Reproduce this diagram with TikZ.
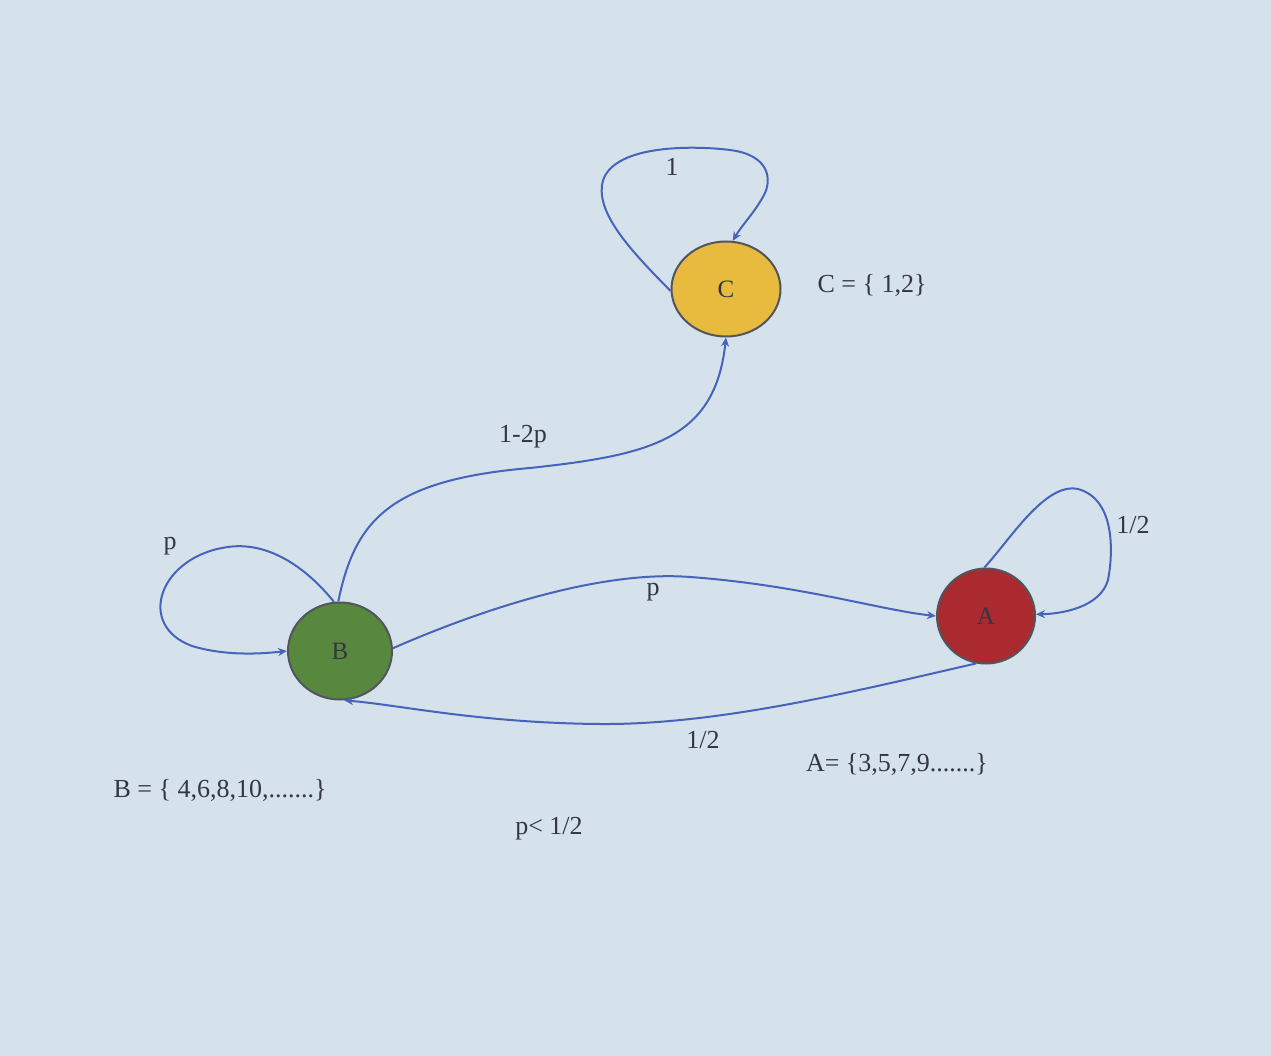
\documentclass[tikz,border=0pt]{standalone}
\usepackage{fontspec}
\setmainfont{Liberation Serif}
\usetikzlibrary{arrows.meta,shapes.geometric}
\definecolor{paper}{RGB}{213,225,235}
\definecolor{edgeblue}{RGB}{70,100,185}
\definecolor{cfill}{RGB}{232,186,62}
\definecolor{bfill}{RGB}{88,136,62}
\definecolor{afill}{RGB}{170,42,48}
\definecolor{inkc}{RGB}{50,55,65}
\tikzset{
  state/.style={ellipse, draw=inkc!85, line width=2pt, inner sep=0pt,
    font=\fontsize{25}{28}\selectfont, text=inkc},
  link/.style={draw=edgeblue, line width=2pt,
    -{Stealth[length=9pt,width=8pt]}},
  lbl/.style={font=\fontsize{26}{30}\selectfont, text=inkc, inner sep=0pt},
}
\begin{document}
\begin{tikzpicture}[x=1pt,y=-1pt]
  \fill[paper] (0,0) rectangle (1271,1056);
  \useasboundingbox (0,0) rectangle (1271,1056);

  % states
  \node[state, fill=cfill, minimum width=109pt, minimum height=95pt] (C) at (726,289) {C};
  \node[state, fill=bfill, minimum width=104pt, minimum height=97pt] (B) at (340,651) {B};
  \node[state, fill=afill, minimum width=98pt, minimum height=95pt] (A) at (986,616) {A};

  % self loop on C
  \draw[link] (C.182) .. controls (630,250) and (598,215) .. (602,185)
              .. controls (608,145) and (690,145) .. (730,150)
              .. controls (770,155) and (772,180) .. (764,195)
              .. controls (755,212) and (742,225) .. (C.82);
  % B to C
  \draw[link] (B.92) .. controls (355,520) and (390,480) .. (530,468)
              .. controls (650,455) and (715,440) .. (C.270);
  % self loop on B
  \draw[link] (B.97) .. controls (300,560) and (262,542) .. (228,547)
              .. controls (160,556) and (135,625) .. (192,646)
              .. controls (225,656) and (260,654) .. (B.180);
  % B to A
  \draw[link] (B.3) .. controls (480,610) and (600,570) .. (690,577)
              .. controls (800,585) and (880,610) .. (A.180);
  % A to B
  \draw[link] (A.258) .. controls (860,690) and (720,725) .. (600,724)
              .. controls (480,723) and (400,705) .. (B.275);
  % self loop on A
  \draw[link] (A.92) .. controls (1010,540) and (1045,482) .. (1078,489)
              .. controls (1118,500) and (1112,560) .. (1108,580)
              .. controls (1100,608) and (1060,614) .. (A.2);

  % transition labels
  \node[lbl] (l1) at (672,167) {1};
  \node[lbl] (l12p) at (523,437) {1-2p};
  \node[lbl] (lpb) at (170,546) {p};
  \node[lbl] (lpa) at (653,592) {p};
  \node[lbl] (lhalfb) at (703,740) {1/2};
  \node[lbl] (lhalfa) at (1133,525) {1/2};

  % class descriptions
  \node[lbl] (cset) at (872,285) {C = \{ 1,2\}};
  \node[lbl] (bset) at (220,790) {B = \{ 4,6,8,10,.......\}};
  \node[lbl] (aset) at (897,764) {A= \{3,5,7,9.......\}};
  \node[lbl] (cond) at (549,829) {p< 1/2};
\end{tikzpicture}
\end{document}
